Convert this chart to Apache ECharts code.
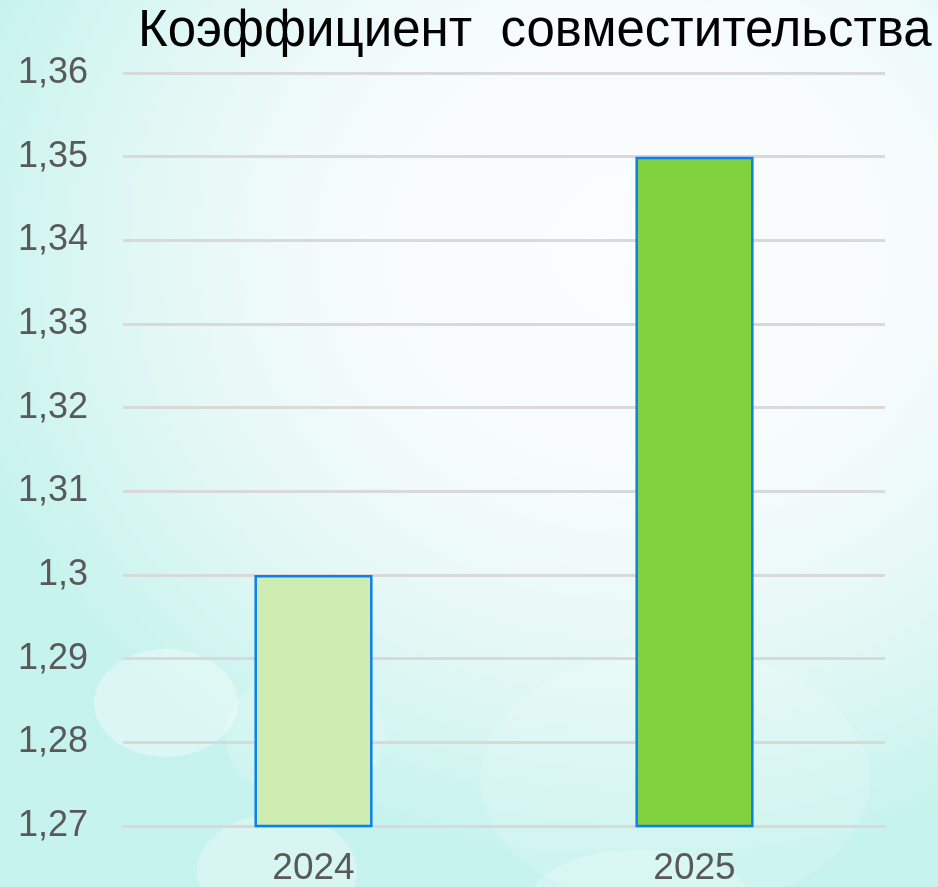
<!DOCTYPE html>
<html><head><meta charset="utf-8">
<script src="https://cdn.jsdelivr.net/npm/echarts@6/dist/echarts.min.js"></script>
<style>
html,body{margin:0;padding:0;width:938px;height:887px;overflow:hidden;}
body{background:radial-gradient(ellipse 75% 70% at 68% 28%, #fbfdfe 0%, #f6fbfc 40%, #e2f8f5 70%, #c6f3ed 100%);}
#c{width:938px;height:887px;}
</style></head><body>
<div id="c"></div>
<script>
const title = 'Коэффициент  совместительства';
const categories = ['2024', '2025'];
const values = [1.30, 1.35];
const barColors = ['#cdedb3', '#7fd23d'];
const yMin = 1.27, yMax = 1.36, yStep = 0.01;

const chart = echarts.init(document.getElementById('c'), null, {renderer: 'canvas'});
chart.setOption({
  backgroundColor: 'transparent',
  title: {
    text: title, left: 133, top: 1,
    textStyle: {fontFamily: "'Liberation Sans Narrow', 'Arial Narrow', sans-serif", fontSize: 51, fontWeight: 'normal', color: '#000'}
  },
  graphic: [
    {type: 'ellipse', z: -1, shape: {cx: 166, cy: 703, rx: 72, ry: 54}, style: {fill: 'rgba(255,255,255,0.35)'}},
    {type: 'ellipse', z: -1, shape: {cx: 305, cy: 735, rx: 80, ry: 65}, style: {fill: 'rgba(255,255,255,0.18)'}},
    {type: 'ellipse', z: -1, shape: {cx: 277, cy: 872, rx: 80, ry: 58}, style: {fill: 'rgba(255,255,255,0.3)'}},
    {type: 'ellipse', z: -1, shape: {cx: 675, cy: 780, rx: 195, ry: 130}, style: {fill: 'rgba(255,255,255,0.15)'}},
    {type: 'ellipse', z: -1, shape: {cx: 640, cy: 900, rx: 110, ry: 50}, style: {fill: 'rgba(255,255,255,0.2)'}}
  ],
  grid: {left: 123, right: 53, top: 73, bottom: 60, containLabel: false},
  xAxis: {
    type: 'category', data: categories,
    axisLine: {show: true, lineStyle: {color: '#d9d9d9', width: 3}},
    axisTick: {show: false},
    axisLabel: {fontFamily: "'Liberation Sans', Arial, sans-serif", fontSize: 37, color: '#595959', margin: 24}
  },
  yAxis: {
    type: 'value', min: yMin, max: yMax, interval: yStep,
    axisLine: {show: false}, axisTick: {show: false},
    splitLine: {lineStyle: {color: '#d9d9d9', width: 3}},
    axisLabel: {
      fontFamily: "'Liberation Sans', Arial, sans-serif", fontSize: 36, color: '#595959', margin: 35,
      formatter: v => String(+v.toFixed(2)).replace('.', ',')
    }
  },
  series: [{
    type: 'bar', barWidth: '31%',
    data: values.map((v, i) => ({value: v, itemStyle: {color: barColors[i]}})),
    itemStyle: {borderColor: '#0a80ee', borderWidth: 2.5}
  }]
});
</script>
</body></html>
